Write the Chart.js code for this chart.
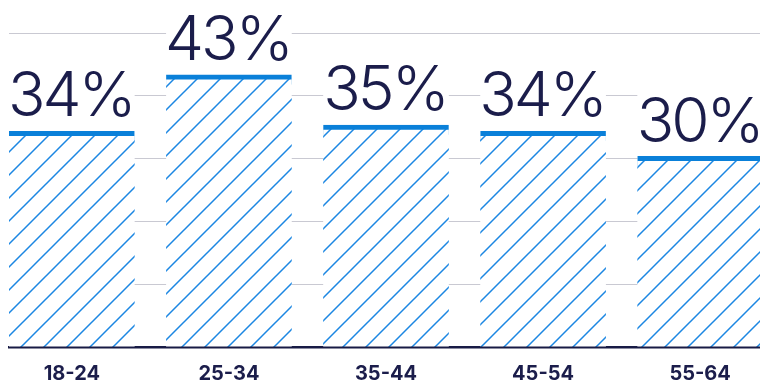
<!DOCTYPE html>
<html>
<head>
<meta charset="utf-8">
<script src="https://cdn.jsdelivr.net/npm/chart.js@4"></script>
<style>
  html, body { margin: 0; padding: 0; background: #fff; overflow: hidden; }
  #wrap { position: relative; width: 763px; height: 385px; }
</style>
</head>
<body>
<div id="wrap"><canvas id="myChart"></canvas></div>
<script>
'use strict';

//Data

let ageGroups = ['18-24', '25-34', '35-44', '45-54', '55-64'];
let shares = [34, 43, 35, 34, 30];
let yMax = 50;
let yStep = 10;

//Colours

let navy = '#1b1d4b';
let blue = '#0a80d9';
let hatchBlue = '#1c87e2';

//Diagonal hatch fill for the bars

function makeHatch(){
  let size = 23;
  let tile = document.createElement('canvas');
  tile.width = size;
  tile.height = size;
  let g = tile.getContext('2d');
  g.fillStyle = '#fff';
  g.fillRect(0, 0, size, size);
  g.strokeStyle = hatchBlue;
  g.lineWidth = 1.5;
  g.beginPath();
  g.moveTo(-2, size + 2); g.lineTo(size + 2, -2);
  g.moveTo(-2, 2); g.lineTo(2, -2);
  g.moveTo(size - 2, size + 2); g.lineTo(size + 2, size - 2);
  g.stroke();
  return g.createPattern(tile, 'repeat');
}

//Big percent labels above each bar

const valueLabels = {
  id: 'valueLabels',
  beforeDatasetsDraw(chart){
    // white box hides the grid lines behind the label
    let ctx = chart.ctx;
    let meta = chart.getDatasetMeta(0);
    ctx.save();
    ctx.fillStyle = '#fff';
    meta.data.forEach(function(bar){
      ctx.fillRect(bar.x - bar.width / 2, bar.y - 68, bar.width, 68);
    });
    ctx.restore();
  },
  afterDatasetsDraw(chart){
    let ctx = chart.ctx;
    let meta = chart.getDatasetMeta(0);
    ctx.save();
    ctx.fillStyle = navy;
    ctx.font = '300 62px Inter';
    ctx.letterSpacing = '-3px';
    ctx.textAlign = 'center';
    ctx.textBaseline = 'alphabetic';
    meta.data.forEach(function(bar, i){
      ctx.fillText(shares[i] + '%', bar.x - 1, bar.y - 17);
    });
    ctx.restore();
  }
};

const data = {
  datasets: [{
    label: 'Share',
    data: shares.map(function(v, i){ return {x: i, y: v}; }),
    backgroundColor: makeHatch(),
    borderColor: blue,
    borderWidth: {top: 5, left: 0, right: 0, bottom: 0},
    borderSkipped: false,
    inflateAmount: 2.5,
    categoryPercentage: 0.8,
    barPercentage: 1,
    clip: {left: 5, top: 10, right: 5, bottom: 0}
  }]
};

const config = {
  type: 'bar',
  data: data,
  plugins: [valueLabels],
  options: {
    responsive: true,
    maintainAspectRatio: false,
    animation: false,
    layout: {
      padding: {top: 33, left: 9, right: 0, bottom: -16}
    },
    plugins: {
      legend: {display: false},
      tooltip: {enabled: false}
    },
    scales: {
      x: {
        type: 'linear',
        offset: false,
        z: 1,
        min: -0.4,
        max: ageGroups.length - 0.6,
        afterBuildTicks: function(axis){
          axis.ticks = ageGroups.map(function(g, i){ return {value: i}; });
        },
        ticks: {
          callback: function(value){ return ageGroups[value]; },
          color: navy,
          font: {family: 'Inter', size: 20, weight: '700', lineHeight: 1},
          padding: 17,
          maxRotation: 0,
          autoSkip: false
        },
        grid: {display: false, drawTicks: false, offset: false},
        border: {display: true, color: '#181b45', width: 2.5}
      },
      y: {
        min: 0,
        max: yMax,
        ticks: {display: false, stepSize: yStep},
        grid: {color: '#c9c9d2', lineWidth: 1, drawTicks: false},
        border: {display: false}
      }
    }
  }
};

const myChart = new Chart(
  document.getElementById('myChart'),
  config
);
</script>
</body>
</html>
